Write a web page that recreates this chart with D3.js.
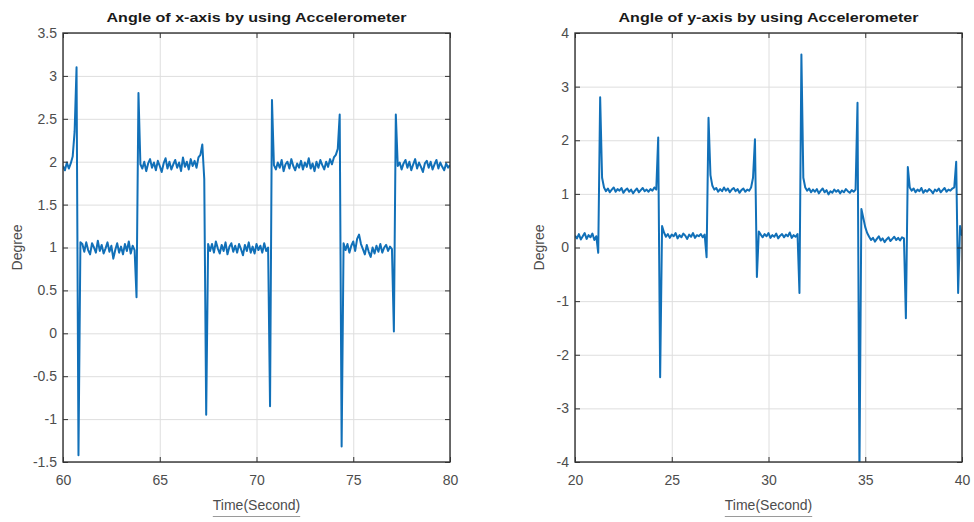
<!DOCTYPE html>
<html>
<head>
<meta charset="utf-8">
<script src="https://cdn.jsdelivr.net/npm/d3@7"></script>
<style>
  body { margin: 0; background: #fff; }
  svg { display: block; font-family: "Liberation Sans", Arial, sans-serif; }
  .tick text { fill: #4d4d4d; font-size: 14px; }
  .frame .tick line { stroke: #333; }
  .grid .tick line { stroke: #dedede; }
  .domain { display: none; }
</style>
</head>
<body>
<svg width="974" height="522"></svg>
<script>
// sample spacing of both recordings (seconds)
const sampleStep = 0.1

// angle of x-axis, samples from t = 60 s
const xAngleStart = 60
const xAngleValues = [
  1.95, 1.90, 1.99, 1.92, 1.98, 2.06, 2.35, 3.10, -1.42, 1.06,
  1.04, 0.95, 1.06, 0.97, 0.92, 1.05, 1.00, 0.94, 1.08, 0.96, 1.03, 0.93, 0.99, 1.06,
  0.95, 1.02, 0.87, 0.97, 1.05, 0.94, 1.01, 0.92, 1.04, 0.96, 1.07, 0.93, 1.02, 0.97,
  0.42, 2.80, 1.97,
  1.92, 2.00, 1.89, 1.98, 2.03, 1.93, 1.99, 1.90, 2.01, 1.95, 1.88, 1.98, 2.04, 1.92,
  2.00, 1.91, 1.97, 2.02, 1.93, 1.99, 1.89, 2.05, 1.94, 2.00, 1.91, 2.03, 1.95, 2.01,
  1.93, 2.05, 2.08, 2.20,
  1.80, -0.95, 1.04,
  0.96, 1.04, 0.94, 1.07, 0.99, 0.93, 1.03, 0.96, 1.06, 0.92, 1.01, 1.05, 0.95, 1.02,
  0.94, 1.04, 0.98, 0.91, 1.03, 0.96, 1.06, 0.94, 1.01, 0.93, 1.04, 0.97, 1.02, 0.94,
  1.05, 0.96, 1.00,
  -0.85, 2.72, 1.96,
  1.91, 1.99, 1.93, 2.02, 1.89, 1.97, 2.00, 1.92, 2.03, 1.95, 1.90, 1.98, 1.93, 2.01,
  1.91, 1.99, 1.94, 2.04, 1.92, 1.98, 1.89, 2.00, 1.93, 2.02, 1.96, 1.91, 2.00, 1.94,
  2.03, 1.97, 2.05, 2.08, 2.15,
  2.55, -1.32, 1.05,
  0.97, 1.04, 0.94, 1.02, 1.07, 0.96, 1.10, 1.15, 1.04, 0.98, 0.92, 1.03, 0.95, 0.89,
  1.00, 0.93, 1.02, 0.95, 1.04, 0.94, 1.00, 1.03, 0.96, 1.01, 0.98,
  0.02, 2.55, 1.95,
  1.99, 1.91, 1.98, 2.02, 1.93, 2.00, 1.90, 1.97, 2.03, 1.92, 1.99, 1.94, 1.88, 1.98,
  2.01, 1.93, 2.00, 1.91, 1.97, 2.02, 1.92, 1.99, 1.94, 1.90, 1.98, 1.93, 1.96
]

// angle of y-axis, samples from t = 20 s
const yAngleStart = 20
const yAngleValues = [
  0.22, 0.17, 0.25, 0.15, 0.21, 0.27, 0.16, 0.23, 0.19, 0.26, 0.14, 0.21,
  -0.10, 2.80, 1.30,
  1.12, 1.05, 1.10, 1.03, 1.08, 1.12, 1.04, 1.09, 1.06, 1.11, 1.02, 1.07, 1.10, 1.04,
  1.08, 1.01, 1.06, 1.10, 1.03, 1.07, 1.11, 1.05, 1.08, 1.04, 1.09, 1.06, 1.12, 1.08,
  2.05, -2.42, 0.40,
  0.28, 0.20, 0.25, 0.18, 0.24, 0.21, 0.27, 0.17, 0.23, 0.19, 0.26, 0.22, 0.16, 0.24,
  0.20, 0.27, 0.18, 0.23, 0.21, 0.25, 0.19, 0.24,
  -0.18, 2.42, 1.35,
  1.15, 1.08, 1.11, 1.04, 1.09, 1.05, 1.12, 1.06, 1.10, 1.03, 1.08, 1.11, 1.05, 1.09,
  1.02, 1.07, 1.10, 1.04, 1.08, 1.06, 1.12, 1.30,
  2.02, -0.55,
  0.30, 0.24, 0.19, 0.25, 0.21, 0.27, 0.18, 0.23, 0.20, 0.26, 0.17, 0.22, 0.25, 0.19,
  0.24, 0.21, 0.28, 0.18, 0.23, 0.20, 0.25,
  -0.85, 3.60, 1.30,
  1.12, 1.06, 1.10, 1.03, 1.08, 1.04, 1.09, 1.01, 1.06, 1.10, 1.03, 1.07, 0.99, 1.05,
  1.02, 1.08, 1.04, 1.07, 1.01, 1.06, 1.03, 1.09, 1.05, 1.02, 1.07, 1.04, 1.08,
  2.70, -4.20, 0.72, 0.55, 0.38, 0.27,
  0.20, 0.14, 0.18, 0.11, 0.16, 0.21, 0.13, 0.17, 0.10, 0.15, 0.19, 0.12, 0.16, 0.20,
  0.14, 0.18, 0.13, 0.19, 0.17,
  -1.32, 1.50, 1.12,
  1.06, 1.10, 1.03, 1.08, 1.05, 1.11, 1.02, 1.07, 1.04, 1.09, 1.06, 1.01, 1.08, 1.05,
  1.10, 1.03, 1.07, 1.11, 1.04, 1.08, 1.06, 1.10, 1.12,
  1.60, -0.85, 0.40, 0.22
]

const xAngleTimeTicks = [60, 65, 70, 75, 80]
const xAngleDegreeTicks = [-1.5, -1, -0.5, 0, 0.5, 1, 1.5, 2, 2.5, 3, 3.5]
const yAngleTimeTicks = [20, 25, 30, 35, 40]
const yAngleDegreeTicks = [-4, -3, -2, -1, 0, 1, 2, 3, 4]

const titles = ['Angle of x-axis by using Accelerometer', 'Angle of y-axis by using Accelerometer']

const svg = d3.select('svg')
const plotTop = 33
const plotBottom = 462
// MATLAB style labels: 2 not 2.0, plain hyphen for minus
const tickFmt = d => String(d)

const panels = [
  {
    title: titles[0], start: xAngleStart, values: xAngleValues,
    xTicks: xAngleTimeTicks, yTicks: xAngleDegreeTicks,
    left: 63, right: 450, labelX: 17
  },
  {
    title: titles[1], start: yAngleStart, values: yAngleValues,
    xTicks: yAngleTimeTicks, yTicks: yAngleDegreeTicks,
    left: 575, right: 962, labelX: 539
  }
]

panels.forEach((p, idx) => {
  const x = d3.scaleLinear()
    .domain(d3.extent(p.xTicks))
    .range([p.left, p.right])
  const y = d3.scaleLinear()
    .domain(d3.extent(p.yTicks))
    .range([plotBottom, plotTop])
  const h = plotBottom - plotTop
  const w = p.right - p.left
  const g = svg.append('g')

  // grid lines
  g.append('g')
    .attr('class', 'grid')
    .attr('transform', `translate(0,${plotBottom})`)
    .call(d3.axisBottom(x).tickValues(p.xTicks).tickSize(-h).tickFormat(''))
  g.append('g')
    .attr('class', 'grid')
    .attr('transform', `translate(${p.left},0)`)
    .call(d3.axisLeft(y).tickValues(p.yTicks).tickSize(-w).tickFormat(''))

  // signal
  svg.append('clipPath')
    .attr('id', 'clip' + idx)
    .append('rect')
    .attr('x', p.left)
    .attr('y', plotTop)
    .attr('width', w)
    .attr('height', h)

  const line = d3.line()
    .x((d, i) => x(p.start + i * sampleStep))
    .y(d => y(d))

  g.append('path')
    .datum(p.values)
    .attr('clip-path', `url(#clip${idx})`)
    .attr('fill', 'none')
    .attr('stroke', '#1170b8')
    .attr('stroke-width', 2)
    .attr('stroke-linejoin', 'round')
    .attr('d', line)

  // box and inward ticks
  g.append('g')
    .attr('class', 'frame')
    .attr('transform', `translate(0,${plotBottom})`)
    .call(d3.axisBottom(x).tickValues(p.xTicks).tickFormat(tickFmt)
      .tickSizeInner(-5).tickSizeOuter(0).tickPadding(13))
  g.append('g')
    .attr('class', 'frame')
    .attr('transform', `translate(0,${plotTop})`)
    .call(d3.axisTop(x).tickValues(p.xTicks).tickSizeInner(-5).tickSizeOuter(0).tickFormat(''))
  g.append('g')
    .attr('class', 'frame')
    .attr('transform', `translate(${p.left},0)`)
    .call(d3.axisLeft(y).tickValues(p.yTicks).tickFormat(tickFmt)
      .tickSizeInner(-5).tickSizeOuter(0).tickPadding(6))
  g.append('g')
    .attr('class', 'frame')
    .attr('transform', `translate(${p.right},0)`)
    .call(d3.axisRight(y).tickValues(p.yTicks).tickSizeInner(-5).tickSizeOuter(0).tickFormat(''))

  g.append('rect')
    .attr('x', p.left)
    .attr('y', plotTop)
    .attr('width', w)
    .attr('height', h)
    .attr('fill', 'none')
    .attr('stroke', '#333')
    .attr('stroke-width', 1.4)

  // title
  g.append('text')
    .attr('x', (p.left + p.right) / 2)
    .attr('y', 22)
    .attr('text-anchor', 'middle')
    .attr('font-weight', 'bold')
    .attr('font-size', 13.5)
    .attr('fill', '#1a1a1a')
    .attr('textLength', 300)
    .attr('lengthAdjust', 'spacingAndGlyphs')
    .text(p.title)

  // axis labels
  g.append('text')
    .attr('transform', `translate(${p.labelX},${(plotTop + plotBottom) / 2}) rotate(-90)`)
    .attr('text-anchor', 'middle')
    .attr('dy', '0.35em')
    .attr('font-size', 14)
    .attr('fill', '#4d4d4d')
    .text('Degree')

  const xl = g.append('text')
    .attr('x', (p.left + p.right) / 2)
    .attr('y', 510)
    .attr('text-anchor', 'middle')
    .attr('font-size', 14)
    .attr('fill', '#4d4d4d')
    .text('Time(Second)')
  const tl = xl.node().getComputedTextLength()
  g.append('line')
    .attr('x1', (p.left + p.right) / 2 - tl / 2)
    .attr('x2', (p.left + p.right) / 2 + tl / 2)
    .attr('y1', 516.5)
    .attr('y2', 516.5)
    .attr('stroke', '#9a9a9a')
    .attr('stroke-width', 1)
})
</script>
</body>
</html>
